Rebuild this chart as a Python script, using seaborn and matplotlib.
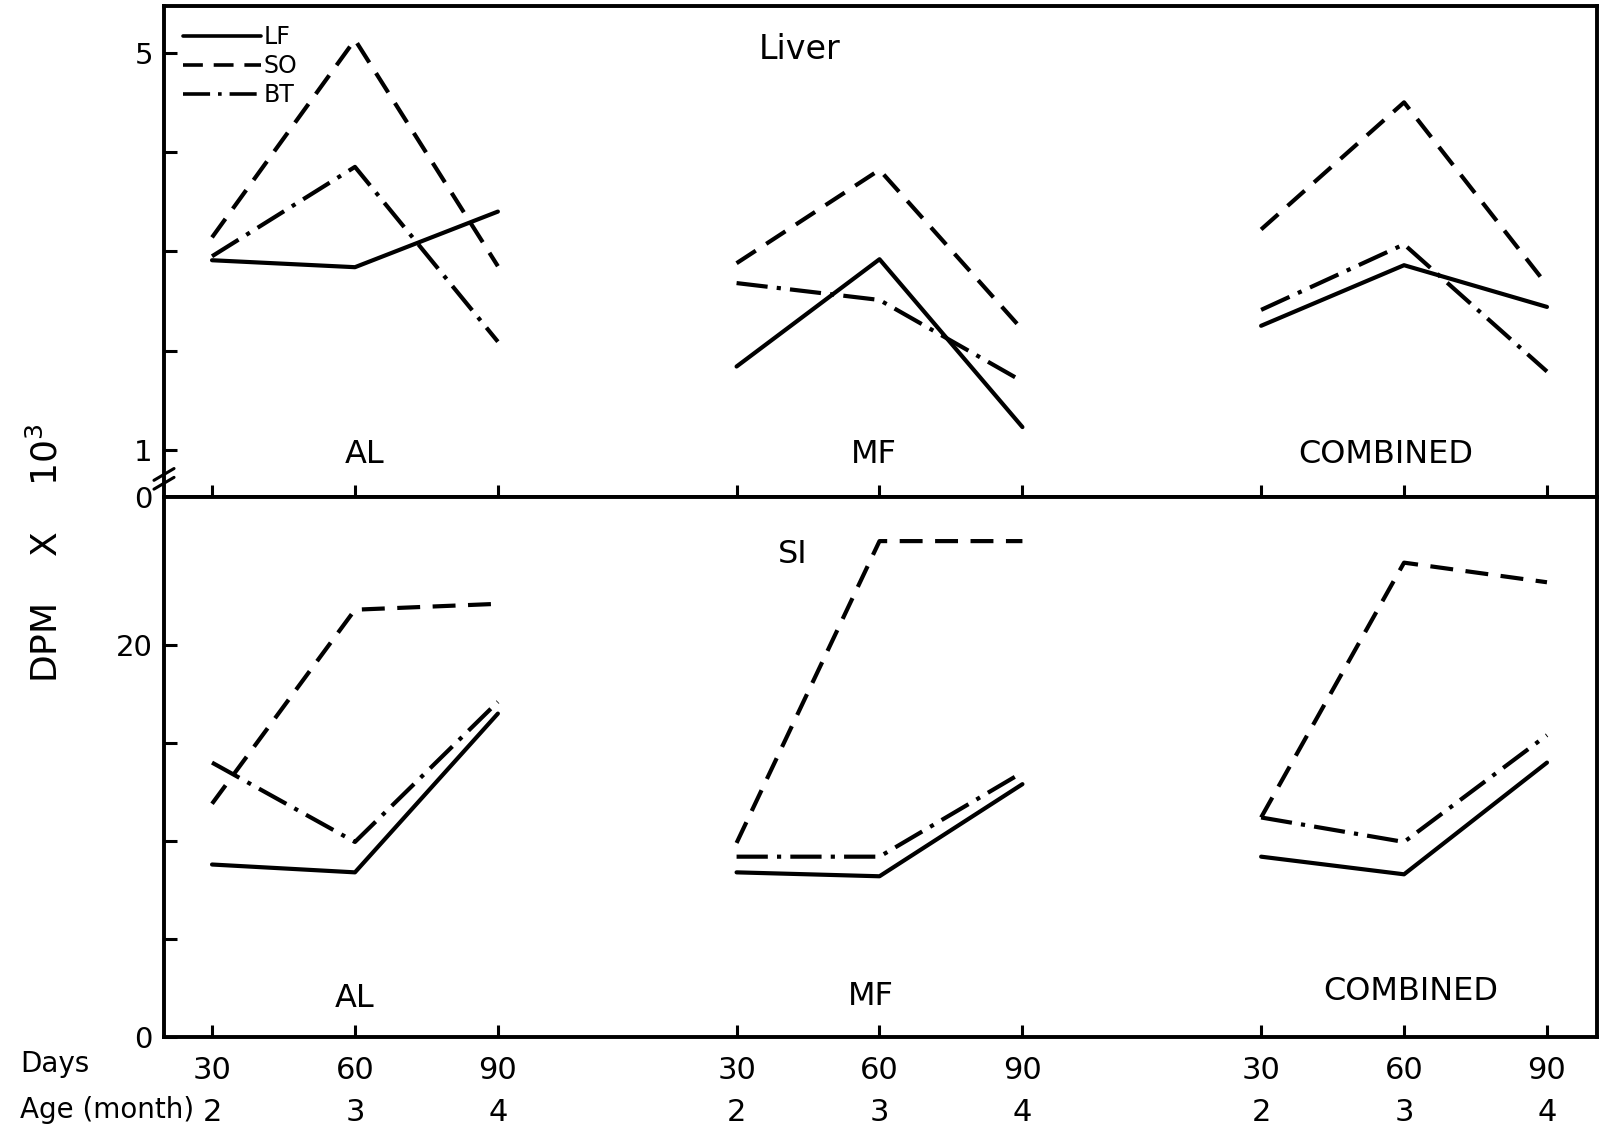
import matplotlib
matplotlib.use("Agg")
import matplotlib.pyplot as plt
import numpy as np
import pandas as pd
import seaborn as sns

# ---- data -------------------------------------------------------------
days = [30, 60, 90]
age_months = [2, 3, 4]
groups = ["AL", "MF", "COMBINED"]
series = ["LF", "SO", "BT"]

# Liver, DPM x 10^3, ordered AL(30,60,90), MF(30,60,90), COMBINED(30,60,90)
liver_LF = [2.91, 2.84, 3.40, 1.84, 2.92, 1.23, 2.25, 2.86, 2.44]
liver_SO = [3.14, 5.13, 2.85, 2.88, 3.82, 2.21, 3.22, 4.50, 2.66]
liver_BT = [2.95, 3.85, 2.09, 2.68, 2.51, 1.69, 2.41, 3.07, 1.79]

# Small intestine, DPM x 10^3, same ordering
si_LF = [8.8, 8.4, 16.5, 8.4, 8.2, 12.9, 9.2, 8.3, 14.0]
si_SO = [11.9, 21.8, 22.1, 9.9, 25.3, 25.3, 11.2, 24.2, 23.2]
si_BT = [14.0, 9.95, 17.1, 9.2, 9.2, 13.5, 11.2, 9.95, 15.4]

# ---- layout -----------------------------------------------------------
GROUP_STRIDE = 3.67  # horizontal distance between diet groups (in 30-day steps)


def to_frame(values_by_series):
    rows = []
    for s, vals in values_by_series.items():
        for gi, g in enumerate(groups):
            for di, d in enumerate(days):
                rows.append({"series": s, "group": g, "day": d,
                             "pos": gi * GROUP_STRIDE + di,
                             "value": vals[gi * len(days) + di]})
    return pd.DataFrame(rows)


liver_df = to_frame({"LF": liver_LF, "SO": liver_SO, "BT": liver_BT})
si_df = to_frame({"LF": si_LF, "SO": si_SO, "BT": si_BT})

sns.set_theme(style="ticks", rc={
    "axes.edgecolor": "black",
    "axes.linewidth": 2.8,
    "xtick.color": "black",
    "ytick.color": "black",
    "text.color": "black",
})
plt.rcParams["font.family"] = ["DejaVu Sans"]

W, H = 1603, 1141
fig = plt.figure(figsize=(W / 100, H / 100), dpi=100)
fig.patch.set_facecolor("white")
left_px, right_px = 164, 1597
top_px, mid_px, bot_px = 6, 497, 1037
ax_top = fig.add_axes([left_px / W, 1 - mid_px / H, (right_px - left_px) / W, (mid_px - top_px) / H])
ax_bot = fig.add_axes([left_px / W, 1 - bot_px / H, (right_px - left_px) / W, (bot_px - mid_px) / H])

dash_map = {"LF": "", "SO": (5.5, 3), "BT": (7.5, 2.2, 1, 2.2)}
line_kw = dict(x="pos", y="value", style="series", style_order=series,
               units="group", estimator=None, dashes=dash_map,
               color="black", linewidth=3)

sns.lineplot(data=liver_df, ax=ax_top, legend="full", **line_kw)
sns.lineplot(data=si_df, ax=ax_bot, legend=False, **line_kw)

# legend in the upper-left corner of the liver panel
old = ax_top.get_legend()
handles = list(old.legend_handles)
labels = [t.get_text() for t in old.get_texts()]
old.remove()
leg = ax_top.legend(handles, labels, loc="upper left",
                    bbox_to_anchor=(19 / 1433, 1 - 19 / 491),
                    frameon=False, fontsize=17, handlelength=3.3,
                    handletextpad=0.1, labelspacing=0.22, borderpad=0,
                    borderaxespad=0)
for h in leg.get_lines():
    h.set_linewidth(2.6)
    h.set_color("black")

xpos = [gi * GROUP_STRIDE + di for gi in range(len(groups)) for di in range(len(days))]
xlim = (-0.336, 9.69)

for ax in (ax_top, ax_bot):
    ax.set_xlim(*xlim)
    ax.set_xlabel("")
    ax.set_ylabel("")
    ax.set_facecolor("white")
    ax.set_xticks(xpos)
    ax.tick_params(axis="both", direction="in", length=9, width=2.2,
                   labelsize=21, top=False, right=False)
    for sp in ax.spines.values():
        sp.set_visible(True)
        sp.set_linewidth(2.8)

# liver panel: broken axis, "0" at its floor
top_ylim = (0.526, 5.47)
ax_top.set_ylim(*top_ylim)
ax_top.set_yticks([top_ylim[0], 1, 2, 3, 4, 5])
ax_top.set_yticklabels(["0", "1", "", "", "", "5"])
ax_top.tick_params(axis="y", pad=8)
ax_top.tick_params(axis="x", labelbottom=False)
for yb in (0.028, 0.046):
    ax_top.plot([-0.007, 0.007], [yb - 0.012, yb + 0.012], transform=ax_top.transAxes,
                color="black", lw=2.2, clip_on=False)

# small intestine panel
ax_bot.set_ylim(0, 27.55)
ax_bot.set_yticks([0, 5, 10, 15, 20])
ax_bot.set_yticklabels(["0", "", "", "", "20"])
ax_bot.tick_params(axis="y", pad=8)
ax_bot.set_xticklabels([f"{days[i % 3]}\n{age_months[i % 3]}" for i in range(9)])
ax_bot.tick_params(axis="x", pad=14, labelsize=22)
for lbl in ax_bot.get_xticklabels():
    lbl.set_linespacing(1.55)

# panel annotations
ax_top.text(4.11, 5.03, "Liver", fontsize=24, ha="center", va="center")
for x, g in zip([1.07, 4.63, 8.21], groups):
    ax_top.text(x, 0.95, g, fontsize=23, ha="center", va="center")
ax_bot.text(4.06, 24.6, "SI", fontsize=23, ha="center", va="center")
for x, y, g in zip([1.0, 4.61, 8.39], [1.95, 2.05, 2.3], groups):
    ax_bot.text(x, y, g, fontsize=23, ha="center", va="center")

fig.text(46 / W, 1 - 553 / H, "DPM    X    10$^3$", rotation=90,
         ha="center", va="center", fontsize=26)
fig.text(20 / W, 1 - 1064 / H, "Days", ha="left", va="center", fontsize=20)
fig.text(20 / W, 1 - 1110 / H, "Age (month)", ha="left", va="center", fontsize=20)

fig.savefig("out.png", dpi=100, facecolor="white")
